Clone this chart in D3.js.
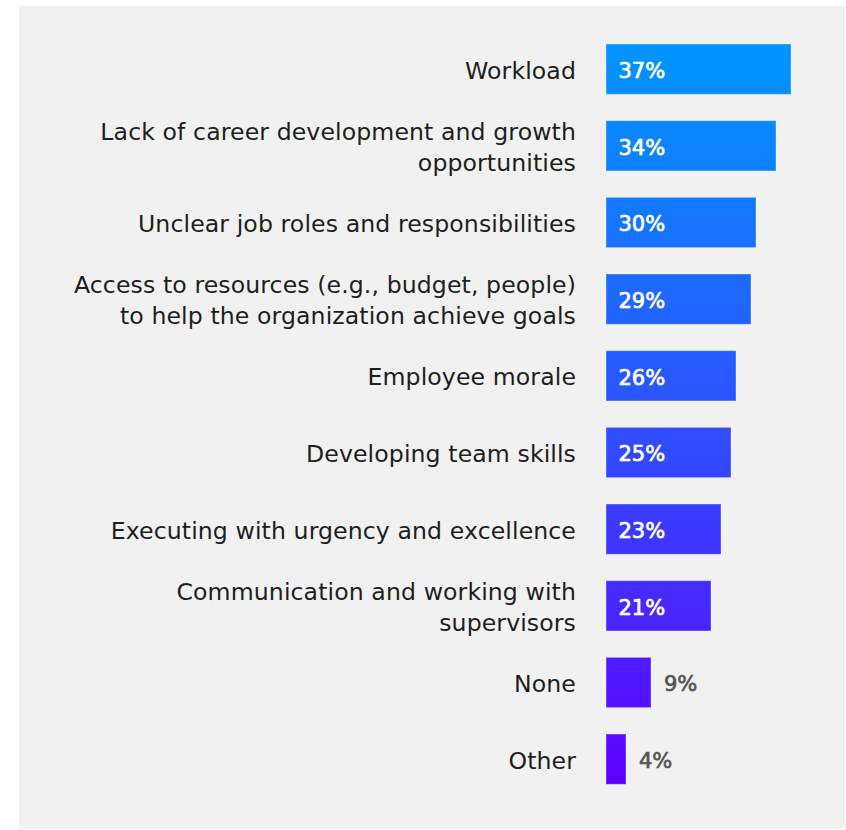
<!DOCTYPE html>
<html>
<head>
<meta charset="utf-8">
<script src="https://cdn.jsdelivr.net/npm/d3@7"></script>
<style>
  html, body { margin: 0; padding: 0; background: #ffffff; }
  svg { display: block; }
  text { font-family: "DejaVu Sans", "Noto Sans", sans-serif; }
</style>
</head>
<body>
<svg id="chart" width="846" height="830"></svg>
<script>
// Challenges reported, share of respondents (%)
const categories = [
  "Workload",
  "Lack of career development and growth\nopportunities",
  "Unclear job roles and responsibilities",
  "Access to resources (e.g., budget, people)\nto help the organization achieve goals",
  "Employee morale",
  "Developing team skills",
  "Executing with urgency and excellence",
  "Communication and working with\nsupervisors",
  "None",
  "Other"
];
const values = [37, 34, 30, 29, 26, 25, 23, 21, 9, 4];
const valueLabels = ["37%", "34%", "30%", "29%", "26%", "25%", "23%", "21%", "9%", "4%"];

const W = 846, H = 830;
const svg = d3.select("#chart");

// panel background
svg.append("rect")
  .attr("x", 19).attr("y", 6)
  .attr("width", 826).attr("height", 823)
  .attr("fill", "#f1f1f1");

const x = d3.scaleLinear().domain([0, 40]).range([606, 806]);
const y = d3.scaleBand()
  .domain(categories)
  .range([44, 784.3])
  .paddingInner(0.344)
  .paddingOuter(0);

// vertical colour ramp running through all bars
const defs = svg.append("defs");
const grad = defs.append("linearGradient")
  .attr("id", "barGrad")
  .attr("gradientUnits", "userSpaceOnUse")
  .attr("x1", 0).attr("x2", 0)
  .attr("y1", y.range()[0]).attr("y2", y.range()[1]);
grad.append("stop").attr("offset", "0%").attr("stop-color", "#0096ff");
grad.append("stop").attr("offset", "50%").attr("stop-color", "#2d52ff");
grad.append("stop").attr("offset", "100%").attr("stop-color", "#5f00ff");

const rows = svg.append("g").selectAll("g")
  .data(categories.map((c, i) => ({ cat: c, v: values[i], label: valueLabels[i] })))
  .join("g");

rows.append("rect")
  .attr("x", x(0))
  .attr("y", d => y(d.cat))
  .attr("width", d => x(d.v) - x(0))
  .attr("height", y.bandwidth())
  .attr("fill", "url(#barGrad)")
  .attr("stroke", "rgba(255,255,255,0.35)")
  .attr("stroke-width", 1);

// category labels, right-aligned left of the bars
const lineH = 31.5;
rows.append("text")
  .attr("text-anchor", "end")
  .attr("fill", "#1e1e1e")
  .attr("font-size", 23.6)
  .attr("letter-spacing", 0.1)
  .each(function(d) {
    const lines = d.cat.split("\n");
    const cy = y(d.cat) + y.bandwidth() / 2;
    const t = d3.select(this);
    lines.forEach((ln, i) => {
      t.append("tspan")
        .attr("x", x(0) - 30)
        .attr("y", cy + (i - (lines.length - 1) / 2) * lineH)
        .attr("dy", "0.4em")
        .text(ln);
    });
  });

// value labels: inside wide bars, outside narrow ones
const inside = d => x(d.v) - x(0) > 60;
rows.append("text")
  .attr("x", d => inside(d) ? x(0) + 12.5 : x(d.v) + 13)
  .attr("y", d => y(d.cat) + y.bandwidth() / 2)
  .attr("dy", "0.42em")
  .attr("font-size", 21)
  .attr("fill", d => inside(d) ? "#ffffff" : "#555555")
  .attr("stroke", d => inside(d) ? "#ffffff" : "#555555")
  .attr("stroke-width", 0.7)
  .text(d => d.label);
</script>
</body>
</html>
